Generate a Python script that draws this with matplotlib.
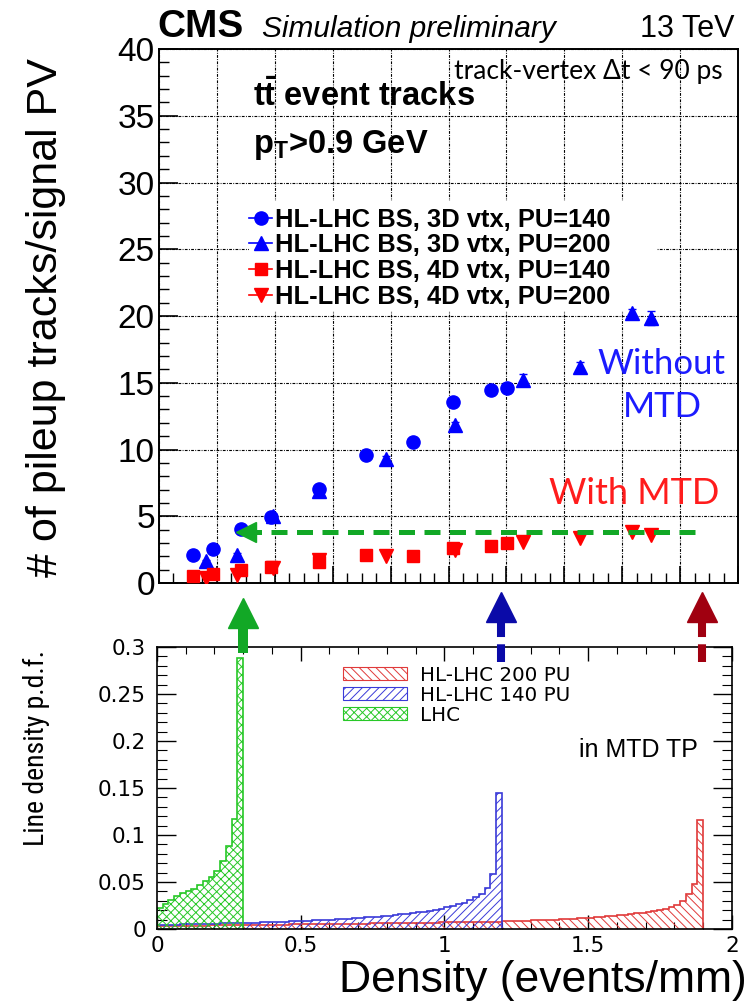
import numpy as np
import matplotlib
matplotlib.use("Agg")
import matplotlib.pyplot as plt
from matplotlib.lines import Line2D
from matplotlib.patches import Rectangle, Patch
from matplotlib import font_manager as fm

# ---------------- data: top panel ----------------
x_3d_140 = [0.119, 0.187, 0.284, 0.388, 0.553, 0.716, 0.879, 1.017, 1.147, 1.201]
y_3d_140 = [2.13, 2.56, 4.06, 4.96, 7.02, 9.60, 10.58, 13.53, 14.49, 14.64]
e_3d_140 = [0.10, 0.10, 0.10, 0.15, 0.15, 0.20, 0.20, 0.25, 0.25, 0.25]

x_3d_200 = [0.162, 0.269, 0.395, 0.553, 0.783, 1.023, 1.259, 1.454, 1.635, 1.700]
y_3d_200 = [1.63, 2.13, 5.01, 6.90, 9.32, 11.83, 15.24, 16.17, 20.25, 19.85]
e_3d_200 = [0.10, 0.10, 0.15, 0.15, 0.20, 0.25, 0.40, 0.40, 0.30, 0.50]

x_4d_140 = [0.119, 0.187, 0.284, 0.388, 0.553, 0.716, 0.879, 1.017, 1.147, 1.201]
y_4d_140 = [0.55, 0.70, 1.00, 1.20, 1.60, 2.13, 2.00, 2.63, 2.76, 2.96]
e_4d_140 = [0.05, 0.05, 0.08, 0.08, 0.35, 0.10, 0.10, 0.15, 0.15, 0.15]

x_4d_200 = [0.162, 0.269, 0.395, 0.553, 0.783, 1.023, 1.259, 1.454, 1.635, 1.700]
y_4d_200 = [0.38, 0.63, 1.15, 1.75, 2.05, 2.50, 3.08, 3.38, 3.85, 3.56]
e_4d_200 = [0.05, 0.05, 0.08, 0.10, 0.10, 0.15, 0.15, 0.15, 0.15, 0.20]

series_labels = ["HL-LHC BS, 3D vtx, PU=140", "HL-LHC BS, 3D vtx, PU=200",
                 "HL-LHC BS, 4D vtx, PU=140", "HL-LHC BS, 4D vtx, PU=200"]

top_yticks = [0, 5, 10, 15, 20, 25, 30, 35, 40]
top_yticklabels = ["0", "5", "10", "15", "20", "25", "30", "35", "40"]

lhc_level = 3.81        # pileup tracks at LHC density (green dashed arrow)
lhc_arrow_end = 1.853

# ---------------- data: bottom panel (line density p.d.f.) ----------------
bin_width = 0.02
lhc_pdf = [0.022, 0.027, 0.031, 0.035, 0.038, 0.040, 0.043, 0.047, 0.051, 0.055,
           0.062, 0.072, 0.088, 0.117, 0.288]
hl140_pdf = [0.0045, 0.0046, 0.0047, 0.0048, 0.0050, 0.0051, 0.0052, 0.0053, 0.0055, 0.0056,
             0.0058, 0.0059, 0.0061, 0.0062, 0.0064, 0.0066, 0.0067, 0.0069, 0.0071, 0.0073,
             0.0075, 0.0077, 0.0079, 0.0082, 0.0084, 0.0087, 0.0089, 0.0092, 0.0095, 0.0098,
             0.0101, 0.0104, 0.0108, 0.0111, 0.0115, 0.0119, 0.0123, 0.0128, 0.0133, 0.0138,
             0.0143, 0.0149, 0.0155, 0.0162, 0.0169, 0.0177, 0.0186, 0.0195, 0.0205, 0.0217,
             0.0230, 0.0245, 0.0262, 0.0282, 0.0306, 0.0336, 0.0375, 0.0440, 0.0590, 0.1450]
hl200_pdf = [0.0030, 0.0031, 0.0032, 0.0033, 0.0034, 0.0035, 0.0035, 0.0036, 0.0037, 0.0038,
             0.0039, 0.0040, 0.0040, 0.0041, 0.0042, 0.0043, 0.0043, 0.0044, 0.0045, 0.0046,
             0.0046, 0.0047, 0.0048, 0.0049, 0.0049, 0.0050, 0.0051, 0.0052, 0.0052, 0.0053,
             0.0054, 0.0055, 0.0055, 0.0056, 0.0057, 0.0058, 0.0058, 0.0059, 0.0060, 0.0061,
             0.0062, 0.0063, 0.0064, 0.0064, 0.0065, 0.0066, 0.0067, 0.0068, 0.0069, 0.0070,
             0.0071, 0.0072, 0.0073, 0.0074, 0.0075, 0.0076, 0.0077, 0.0078, 0.0079, 0.0080,
             0.0081, 0.0083, 0.0085, 0.0087, 0.0089, 0.0091, 0.0093, 0.0095, 0.0097, 0.0100,
             0.0103, 0.0106, 0.0109, 0.0112, 0.0116, 0.0120, 0.0124, 0.0129, 0.0134, 0.0140,
             0.0146, 0.0152, 0.0159, 0.0166, 0.0174, 0.0183, 0.0193, 0.0204, 0.0217, 0.0232,
             0.0255, 0.0300, 0.0370, 0.0475, 0.1160]
hist_labels = ["HL-LHC 200 PU", "HL-LHC 140 PU", "LHC"]

bot_xticks = [0, 0.5, 1, 1.5, 2]
bot_xticklabels = ["0", "0.5", "1", "1.5", "2"]
bot_yticks = [0, 0.05, 0.1, 0.15, 0.2, 0.25, 0.3]
bot_yticklabels = ["0", "0.05", "0.1", "0.15", "0.2", "0.25", "0.3"]

# peak densities marked by arrows between panels
peak_lhc, peak_140, peak_200 = 0.30, 1.195, 1.895

# ---------------- style ----------------
SANS = "Liberation Sans"
GILL = "Lato"
plt.rcParams["hatch.linewidth"] = 0.7


def find_narrow():
    pref = ["Liberation Sans Narrow", "Roboto Condensed", "DejaVu Sans Condensed",
            "Open Sans Condensed", "Noto Sans Condensed"]
    cands = []
    for f in fm.fontManager.ttflist:
        nm = f.name
        fn = f.fname.lower()
        is_narrow = ("Narrow" in nm or "Condensed" in nm or "narrow" in fn or "condensed" in fn
                     or str(f.stretch) in ("condensed", "semi-condensed"))
        if not is_narrow:
            continue
        if f.style != "normal":
            continue
        if "bold" in fn or "italic" in fn or "oblique" in fn or "light" in fn or "thin" in fn \
                or "medium" in fn or "black" in fn or "semibold" in fn:
            continue
        cands.append(f)
    for p in pref:
        for f in cands:
            if f.name == p or p.replace(" ", "").lower() in f.fname.replace("-", "").replace("_", "").lower():
                return fm.FontProperties(fname=f.fname)
    if cands:
        return fm.FontProperties(fname=cands[0].fname)
    return None


NARROW_FP = find_narrow()

BLUE = "#0000ff"
RED = "#ff0000"
H_RED = "#e03a3a"
H_BLUE = "#3a3ad8"
H_GREEN = "#28c828"
ARR_GREEN = "#12a826"
ARR_BLUE = "#0a0aa8"
ARR_RED = "#a00010"

fig = plt.figure(figsize=(7.49, 10.05), dpi=100)

# ================= top panel =================
ax1 = fig.add_axes([0.2123, 0.4199, 0.7730, 0.5313])
ax1.set_xlim(0, 2)
ax1.set_ylim(0, 40)
ax1.set_axisbelow(True)
ax1.set_xticks(np.arange(0, 2.01, 0.2))
ax1.set_xticks(np.arange(0, 2.01, 0.05), minor=True)
ax1.set_yticks(top_yticks)
ax1.set_yticklabels(top_yticklabels, family=SANS, fontsize=24)
ax1.set_yticks(np.arange(0, 40.1, 1), minor=True)
ax1.tick_params(axis="x", which="both", labelbottom=False, direction="in")
ax1.tick_params(axis="x", which="major", length=12, width=1.2)
ax1.tick_params(axis="x", which="minor", length=7, width=1.0)
ax1.tick_params(axis="y", which="major", direction="in", length=14, width=1.2, pad=3)
ax1.tick_params(axis="y", which="minor", direction="in", length=7, width=1.0)
ax1.grid(True, which="major", color="black", linestyle=(0, (2.5, 1.2, 0.8, 1.2)), linewidth=0.8)
for s in ax1.spines.values():
    s.set_linewidth(1.4)

# white legend box that hides the grid
ax1.add_patch(Rectangle((0.31, 20.4), 1.41, 8.2, facecolor="white", edgecolor="none", zorder=1))

ax1.errorbar(x_3d_140, y_3d_140, yerr=e_3d_140, fmt="o", color=BLUE, ms=9.5, elinewidth=1.2, capsize=0, zorder=3)
ax1.errorbar(x_3d_200, y_3d_200, yerr=e_3d_200, fmt="^", color=BLUE, ms=10, elinewidth=1.2, capsize=3, zorder=3)
ax1.errorbar(x_4d_140, y_4d_140, yerr=e_4d_140, fmt="s", color=RED, ms=9, elinewidth=1.2, capsize=0, zorder=3)
ax1.errorbar(x_4d_200, y_4d_200, yerr=e_4d_200, fmt="v", color=RED, ms=10, elinewidth=1.2, capsize=0, zorder=3)

handles = [Line2D([], [], color=BLUE, marker="o", ms=9.5, lw=1.2),
           Line2D([], [], color=BLUE, marker="^", ms=10, lw=1.2),
           Line2D([], [], color=RED, marker="s", ms=9, lw=1.2),
           Line2D([], [], color=RED, marker="v", ms=10, lw=1.2)]
ax1.legend(handles, series_labels, loc="upper left", bbox_to_anchor=(0.31, 28.12),
           bbox_transform=ax1.transData, frameon=False, borderpad=0, borderaxespad=0,
           handlelength=0.92, handletextpad=0.1, labelspacing=0.07,
           prop={"family": SANS, "weight": "bold", "size": 18.4})

# green dashed arrow at LHC level
ax1.plot([lhc_arrow_end, peak_lhc + 0.03], [lhc_level, lhc_level], color=ARR_GREEN, lw=3.6,
         dashes=(3.2, 1.9), solid_capstyle="butt", zorder=4)
ax1.plot([peak_lhc], [lhc_level], marker="<", ms=14, color=ARR_GREEN, mec=ARR_GREEN, zorder=4, clip_on=False)

# texts
plt.rcParams["mathtext.fontset"] = "custom"
plt.rcParams["mathtext.bf"] = "Liberation Sans:bold"
plt.rcParams["mathtext.rm"] = "Liberation Sans:bold"
plt.rcParams["mathtext.it"] = "Liberation Sans:bold"
ax1.text(0.325, 35.7, r"$\mathbf{t\bar{t}}$ event tracks", family=SANS, weight="bold", fontsize=23.5, va="baseline")
ax1.text(0.325, 32.2, r"$\mathbf{p_{T}}$>0.9 GeV", family=SANS, weight="bold", fontsize=23.5, va="baseline")
ax1.text(1.02, 37.75, "track-vertex \u0394t < 90 ps", family=GILL, fontsize=19, va="baseline")
ax1.text(1.735, 16.4, "Without", family=GILL, fontsize=25, color="#1c1cff", ha="center", va="center")
ax1.text(1.74, 13.2, "MTD", family=GILL, fontsize=25, color="#1c1cff", ha="center", va="center")
ax1.text(1.643, 6.7, "With MTD", family=GILL, fontsize=26, color="#ff1c1c", ha="center", va="center")

fig.text(0.210, 0.963, "CMS", family=SANS, weight="bold", fontsize=28, va="baseline")
fig.text(0.350, 0.963, "Simulation preliminary", family=SANS, style="italic", fontsize=21.5, va="baseline")
fig.text(0.981, 0.963, "13 TeV", family=SANS, fontsize=22, ha="right", va="baseline")
fig.text(0.062, 0.684, "# of pileup tracks/signal PV", family=SANS, fontsize=31, rotation=90,
         ha="center", va="center")

# ================= bottom panel =================
ax2 = fig.add_axes([0.2096, 0.0756, 0.7677, 0.2806])
ax2.set_xlim(0, 2)
ax2.set_ylim(0, 0.3)

e_lhc = np.arange(len(lhc_pdf) + 1) * bin_width
e_140 = np.arange(len(hl140_pdf) + 1) * bin_width
e_200 = np.arange(len(hl200_pdf) + 1) * bin_width

ax2.stairs(hl200_pdf, e_200, fill=True, facecolor="none", edgecolor=H_RED, hatch="\\\\\\\\", linewidth=0, zorder=2)
ax2.stairs(hl200_pdf, e_200, color=H_RED, linewidth=1.2, zorder=2.1)
ax2.stairs(hl140_pdf, e_140, fill=True, facecolor="none", edgecolor=H_BLUE, hatch="////", linewidth=0, zorder=2.2)
ax2.stairs(hl140_pdf, e_140, color=H_BLUE, linewidth=1.2, zorder=2.3)
ax2.stairs(lhc_pdf, e_lhc, fill=True, facecolor="none", edgecolor=H_GREEN, hatch="xxxx", linewidth=0, zorder=2.4)
ax2.stairs(lhc_pdf, e_lhc, color=H_GREEN, linewidth=1.2, zorder=2.5)

ax2.set_xticks(bot_xticks)
ax2.set_xticklabels(bot_xticklabels, family="DejaVu Sans", fontsize=15.5)
ax2.set_xticks(np.arange(0, 2.01, 0.1), minor=True)
ax2.set_yticks(bot_yticks)
ax2.set_yticklabels(bot_yticklabels, family="DejaVu Sans", fontsize=15.5)
ax2.set_yticks(np.arange(0, 0.301, 0.01), minor=True)
ax2.tick_params(which="both", direction="in", top=True, right=True)
ax2.tick_params(axis="y", which="major", length=14, width=1.0, pad=8)
ax2.tick_params(axis="y", which="minor", length=7, width=0.8)
ax2.tick_params(axis="x", which="major", length=10, width=1.0, pad=5)
ax2.tick_params(axis="x", which="minor", length=5, width=0.8)
for s in ax2.spines.values():
    s.set_linewidth(1.2)

leg_handles = [Patch(facecolor="none", edgecolor=H_RED, hatch="\\\\\\\\", lw=0.8),
               Patch(facecolor="none", edgecolor=H_BLUE, hatch="////", lw=0.8),
               Patch(facecolor="none", edgecolor=H_GREEN, hatch="xxxx", lw=0.8)]
ax2.legend(leg_handles, hist_labels, loc="upper left", bbox_to_anchor=(0.647, 0.28),
           bbox_transform=ax2.transData, frameon=False, borderpad=0, borderaxespad=0,
           handlelength=3.2, handleheight=0.62, handletextpad=0.7, labelspacing=0.05,
           prop={"family": "DejaVu Sans", "size": 14.3})

ax2.text(1.88, 0.19, "in MTD TP", family=SANS, fontsize=18, ha="right", va="center")
if NARROW_FP is not None:
    fp = NARROW_FP.copy()
    fp.set_size(20)
    fig.text(0.049, 0.256, "Line density p.d.f.", fontproperties=fp, rotation=90, ha="center", va="center")
else:
    fig.text(0.049, 0.256, "Line density p.d.f.", family=SANS, fontsize=17, rotation=90, ha="center", va="center")
fig.text(0.9975, 0.0129, "Density (events/mm)", family=SANS, fontsize=32, ha="right", va="baseline")

# arrows between the panels
tr = ax2.get_xaxis_transform()
ax2.plot([peak_lhc, peak_lhc], [0.979, 1.075], transform=tr, color=ARR_GREEN, lw=7.2,
         solid_capstyle="butt", clip_on=False, zorder=5)
ax2.plot([peak_lhc], [1.121], transform=tr, marker="^", ms=22, color=ARR_GREEN, clip_on=False, zorder=5)
for xp, col in [(peak_140, ARR_BLUE), (peak_200, ARR_RED)]:
    ax2.plot([xp, xp], [0.947, 1.095], transform=tr, color=col, lw=5.8, dashes=(2.2, 0.9),
             clip_on=False, zorder=5)
    ax2.plot([xp], [1.142], transform=tr, marker="^", ms=22, color=col, clip_on=False, zorder=5)

fig.savefig("out.png", dpi=100)
